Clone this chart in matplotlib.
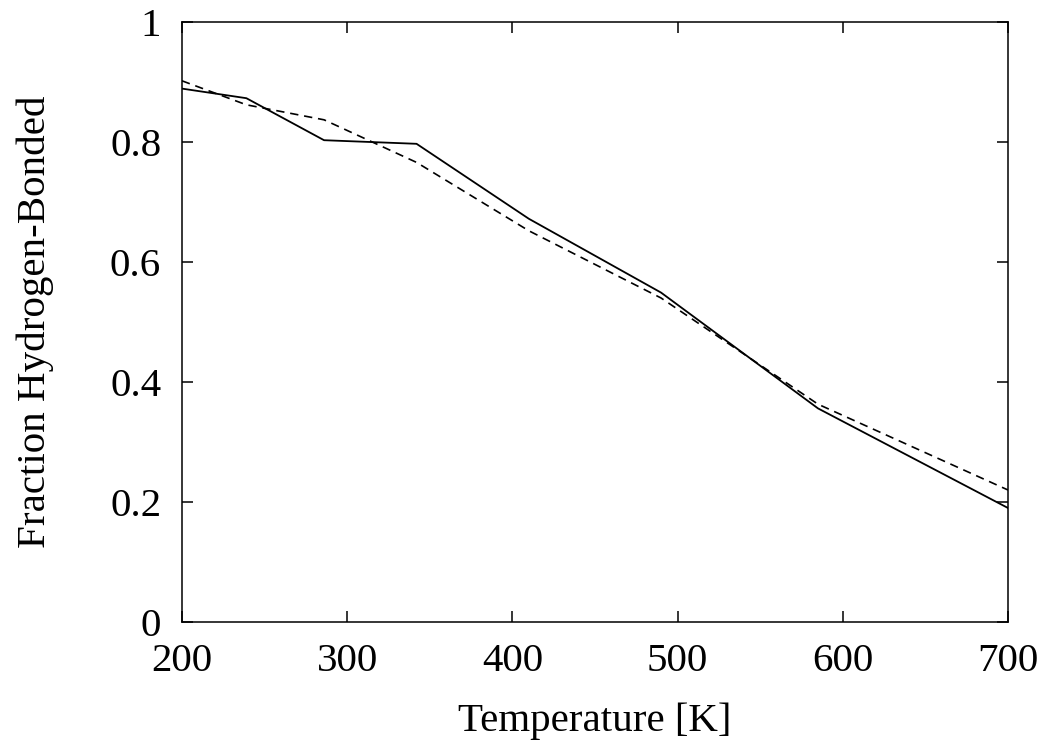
import matplotlib
matplotlib.use('Agg')
import matplotlib.pyplot as plt

# temperatures [K] and fraction hydrogen-bonded
temperature = [200, 239, 286, 342, 410, 490, 585, 700]
frac_solid = [0.889, 0.873, 0.803, 0.797, 0.672, 0.549, 0.356, 0.190]
frac_dashed = [0.902, 0.862, 0.837, 0.766, 0.652, 0.540, 0.363, 0.220]

xticks = [200, 300, 400, 500, 600, 700]
yticks = [0, 0.2, 0.4, 0.6, 0.8, 1]
ytick_labels = ['0', '0.2', '0.4', '0.6', '0.8', '1']

plt.rcParams['font.family'] = ['Liberation Serif', 'DejaVu Serif']

fig = plt.figure(figsize=(10.5, 7.41), dpi=100)
ax = fig.add_axes([0.1733, 0.1606, 0.7867, 0.8097])

ax.plot(temperature, frac_solid, color='black', lw=1.3)
ax.plot(temperature, frac_dashed, color='black', lw=1.2, dashes=(5, 3.5))

ax.set_xlim(200, 700)
ax.set_ylim(0, 1)
ax.set_xticks(xticks)
ax.set_yticks(yticks)
ax.set_yticklabels(ytick_labels)

ax.tick_params(direction='in', length=8, width=1.1, top=True, right=True,
               labelsize=29.5, pad=15)
for s in ax.spines.values():
    s.set_linewidth(1.1)

ax.set_xlabel('Temperature [K]', fontsize=29.5, labelpad=16)
ax.set_ylabel('Fraction Hydrogen-Bonded', fontsize=29.5, labelpad=40)

fig.savefig('out.png', dpi=100)
